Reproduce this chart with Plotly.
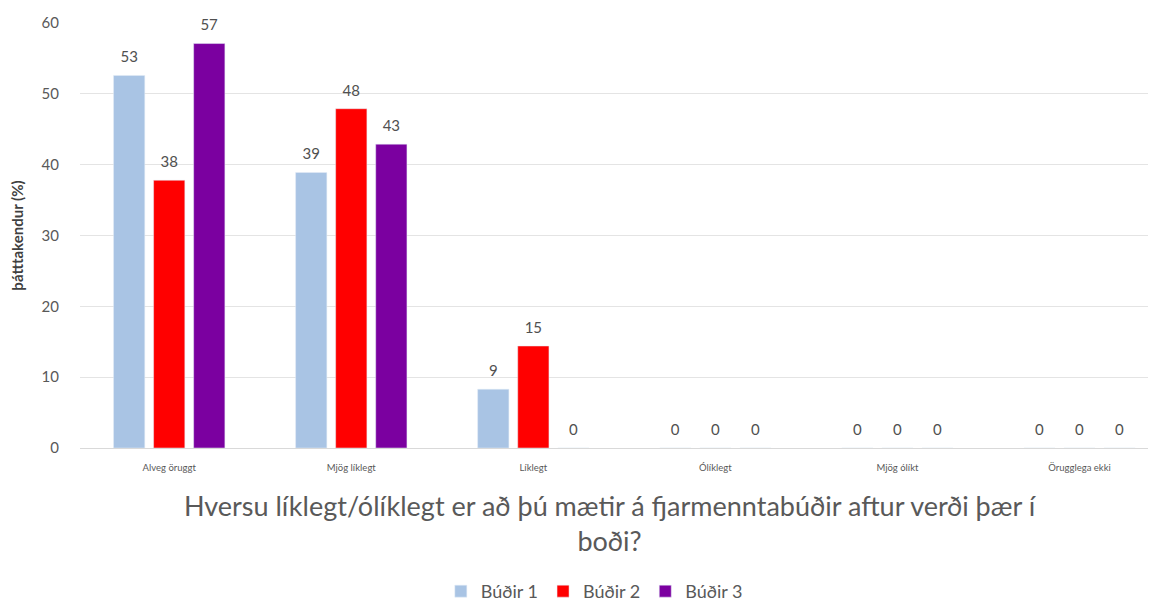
import plotly.graph_objects as go

categories = ["Alveg öruggt", "Mjög líklegt", "Líklegt", "Ólíklegt", "Mjög ólíkt", "Örugglega ekki"]
series_names = ["Búðir 1", "Búðir 2", "Búðir 3"]
# bar heights
budir1_values = [52.6, 38.9, 8.3, 0, 0, 0]
budir2_values = [37.8, 47.9, 14.4, 0, 0, 0]
budir3_values = [57.1, 42.9, 0, 0, 0, 0]
# data labels as printed on the chart
budir1_labels = ["53", "39", "9", "0", "0", "0"]
budir2_labels = ["38", "48", "15", "0", "0", "0"]
budir3_labels = ["57", "43", "0", "0", "0", "0"]
colors = ["#a9c4e4", "#ff0000", "#7b00a0"]

y_ticks = [0, 10, 20, 30, 40, 50, 60]
x_title = "Hversu líklegt/ólíklegt er að þú mætir á fjarmenntabúðir aftur verði þær í<br>boði?"
y_title = "þátttakendur (%)"

FONT = "Lato, 'Open Sans', sans-serif"
fig = go.Figure()
for name, vals, labs, col in zip(series_names,
                                 [budir1_values, budir2_values, budir3_values],
                                 [budir1_labels, budir2_labels, budir3_labels],
                                 colors):
    fig.add_trace(go.Bar(
        name=name, x=categories, y=vals, marker_color=col,
        text=["<span style='font-size:15px'>" + l + "</span><br> " for l in labs],
        texttemplate="%{text}",
        textposition="outside", cliponaxis=False,
        textfont=dict(size=7, color="#505050", family=FONT),
    ))

# page body has an 8px margin, so the figure is sized to fill the rest of the window
fig.update_layout(
    width=1148, height=594,
    margin=dict(l=72, r=0, t=15, b=154, autoexpand=False),
    paper_bgcolor="white", plot_bgcolor="white",
    barmode="group", bargap=0.34, bargroupgap=0.22,
    font=dict(family=FONT, color="#595959"),
    showlegend=True,
    legend=dict(orientation="h", x=0.478, xanchor="center", y=-0.381, yanchor="bottom",
                font=dict(size=18, color="#595959"), traceorder="normal",
                itemwidth=30, tracegroupgap=0, bgcolor="rgba(0,0,0,0)"),
    annotations=[dict(text=x_title, xref="paper", yref="paper", x=0.4926, y=-0.092,
                      xanchor="center", yanchor="top", showarrow=False,
                      font=dict(size=27, color="#595959", family=FONT))],
)
fig.update_xaxes(
    range=[-0.49, 5.42], showgrid=False, showline=False, zeroline=False,
    tickfont=dict(size=9.5, color="#595959"), ticks="", ticklabelstandoff=12,
    automargin=False,
)
fig.update_yaxes(
    range=[0, 60], tickvals=y_ticks, showgrid=True, gridcolor="#e4e4e4", gridwidth=1,
    zeroline=True, zerolinecolor="#d9d9d9", zerolinewidth=1, showline=False,
    tickfont=dict(size=15, color="#595959"), ticks="", ticklabelstandoff=20,
    automargin=False,
    title=dict(text="<b>" + y_title + "</b>", font=dict(size=15, color="#404040"), standoff=14),
)
fig.write_html("out.html")
